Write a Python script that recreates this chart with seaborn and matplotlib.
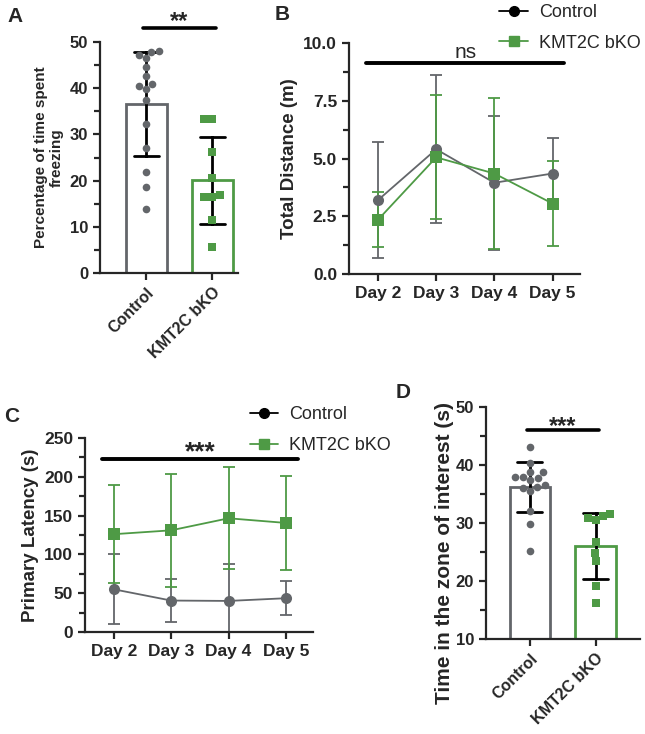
import numpy as np
import pandas as pd
import seaborn as sns
import matplotlib.pyplot as plt
from matplotlib.lines import Line2D
from matplotlib.ticker import MultipleLocator

GRAY = '#63666a'
GREEN = '#4e9a45'
GROUPS = ['Control', 'KMT2C bKO']
DAYS = ['Day 2', 'Day 3', 'Day 4', 'Day 5']

# A: freezing (%), individual animals
freeze_ctrl = [47.8, 48.1, 47.3, 46.5, 44.7, 42.7, 41.0, 40.5, 39.8, 37.5,
               32.3, 27.0, 21.8, 18.7, 13.8]
freeze_ko = [33.4, 33.4, 26.3, 20.5, 16.4, 16.9, 16.4, 11.5, 5.6]

# B: total distance (m), mean and SD
dist_ctrl = [3.2, 5.4, 3.95, 4.35]
dist_ctrl_sd = [2.5, 3.2, 2.9, 1.55]
dist_ko = [2.35, 5.05, 4.35, 3.05]
dist_ko_sd = [1.2, 2.68, 3.25, 1.85]

# C: primary latency (s), mean and SD
lat_ctrl = [55, 40.5, 40, 43.5]
lat_ctrl_sd = [45, 27.5, 47, 22]
lat_ko = [126, 131, 146.5, 140.5]
lat_ko_sd = [63, 73, 65.5, 60.5]

# D: time in zone of interest (s)
zone_ctrl = [43.2, 40.3, 38.8, 38.8, 37.8, 37.9, 37.9, 37.4, 36.5, 36.2,
             36.0, 35.5, 32.0, 29.9, 25.2]
zone_ko = [30.9, 31.5, 30.5, 31.2, 26.8, 24.8, 23.5, 19.1, 16.2]

sns.set_style('ticks')
plt.rcParams['font.family'] = ['Liberation Sans', 'DejaVu Sans']
plt.rcParams['axes.linewidth'] = 1.6
plt.rcParams['xtick.major.width'] = 1.6
plt.rcParams['ytick.major.width'] = 1.6
plt.rcParams['ytick.minor.width'] = 1.6
plt.rcParams['xtick.major.size'] = 5
plt.rcParams['ytick.major.size'] = 5
plt.rcParams['ytick.minor.size'] = 4

fig = plt.figure(figsize=(6.45, 7.34), dpi=100)
axA = fig.add_axes([0.155, 0.628, 0.214, 0.3147])
axB = fig.add_axes([0.541, 0.6267, 0.358, 0.3147])
axC = fig.add_axes([0.1318, 0.139, 0.3535, 0.2643])
axD = fig.add_axes([0.7535, 0.1294, 0.2388, 0.316])


def bar_panel(ax, ctrl, ko, ylabel, ylim, xlim, major, minor, sig, sig_y,
              label_size):
    df = pd.DataFrame({'group': ['Control'] * len(ctrl) + ['KMT2C bKO'] * len(ko),
                       'value': ctrl + ko})
    sns.barplot(data=df, x='group', y='value', hue='group', order=GROUPS,
                palette=[GRAY, GREEN], fill=False, width=0.62, linewidth=2,
                errorbar='sd', capsize=0.38,
                err_kws={'color': 'black', 'linewidth': 2, 'zorder': 3},
                legend=False, ax=ax)
    sns.swarmplot(data=df[df.group == 'Control'], x='group', y='value',
                  order=GROUPS, color=GRAY, marker='o', size=5.5, ax=ax,
                  zorder=4)
    sns.swarmplot(data=df[df.group == 'KMT2C bKO'], x='group', y='value',
                  order=GROUPS, color=GREEN, marker='s', size=5.5, ax=ax,
                  zorder=4)
    ax.set_ylim(*ylim)
    ax.set_xlim(*xlim)
    ax.yaxis.set_major_locator(MultipleLocator(major))
    ax.yaxis.set_minor_locator(MultipleLocator(minor))
    ax.set_xlabel('')
    ax.set_ylabel(ylabel, fontsize=label_size, fontweight='bold')
    ax.tick_params(axis='x', labelsize=11.5, rotation=45)
    ax.tick_params(axis='y', labelsize=12)
    for t in ax.get_xticklabels():
        t.set_fontweight('bold')
        t.set_ha('right')
        t.set_rotation_mode('anchor')
    for t in ax.get_yticklabels():
        t.set_fontweight('bold')
    ax.plot([-0.05, 1.05], [sig_y[0], sig_y[0]], color='black', lw=2.6,
            clip_on=False)
    ax.text(0.5, sig_y[1], sig, ha='center', va='bottom', fontsize=17,
            fontweight='bold')
    sns.despine(ax=ax)


bar_panel(axA, freeze_ctrl, freeze_ko, 'Percentage of time spent\nfreezing',
          (0, 50), (-0.70, 1.39), 10, 5, '**', (53.0, 51.9), 11)
bar_panel(axD, zone_ctrl, zone_ko, 'Time in the zone of interest (s)',
          (10, 50), (-0.667, 1.67), 10, 5, '***', (46.0, 44.6), 15)
axD.yaxis.set_label_coords(-0.205, 0.37)


def line_panel(ax, ctrl, ctrl_sd, ko, ko_sd, ylabel, ylim, major, minor,
               sig, sig_y, fmt, leg_anchor):
    df = pd.DataFrame({'day': DAYS * 2,
                       'group': ['Control'] * 4 + ['KMT2C bKO'] * 4,
                       'mean': ctrl + ko})
    sns.lineplot(data=df, x='day', y='mean', hue='group', style='group',
                 palette=[GRAY, GREEN], markers={'Control': 'o', 'KMT2C bKO': 's'},
                 dashes=False, markersize=8, markeredgewidth=0, linewidth=1.3,
                 legend=False, ax=ax, zorder=3)
    ax.errorbar(DAYS, ctrl, yerr=ctrl_sd, fmt='none', ecolor=GRAY,
                elinewidth=1.3, capsize=4.5, capthick=1.3, zorder=2)
    ax.errorbar(DAYS, ko, yerr=ko_sd, fmt='none', ecolor=GREEN,
                elinewidth=1.3, capsize=4.5, capthick=1.3, zorder=2)
    ax.set_ylim(*ylim)
    ax.set_xlim(-0.5, 3.47)
    ax.yaxis.set_major_locator(MultipleLocator(major))
    ax.yaxis.set_minor_locator(MultipleLocator(minor))
    ax.yaxis.set_major_formatter(fmt)
    ax.set_xlabel('')
    ax.set_ylabel(ylabel, fontsize=13.5, fontweight='bold')
    ax.tick_params(axis='both', labelsize=12.5)
    for t in ax.get_xticklabels() + ax.get_yticklabels():
        t.set_fontweight('bold')
    ax.plot([-0.2, 3.2], [sig_y[0], sig_y[0]], color='black', lw=2.8,
            clip_on=False)
    ax.text(1.5, sig_y[1], sig, ha='center', va='bottom', fontsize=sig_y[2],
            fontweight='bold' if sig != 'ns' else 'normal')
    handles = [Line2D([], [], color='black', marker='o', markersize=7, lw=1.3),
               Line2D([], [], color=GREEN, marker='s', markersize=7, lw=1.3)]
    ax.legend(handles, GROUPS, loc='upper left', bbox_to_anchor=leg_anchor,
              frameon=False, fontsize=13, handlelength=1.6,
              labelspacing=0.75, handletextpad=0.6, borderaxespad=0)
    sns.despine(ax=ax)


line_panel(axB, dist_ctrl, dist_ctrl_sd, dist_ko, dist_ko_sd,
           'Total Distance (m)', (0, 10), 2.5, 1.25, 'ns', (9.15, 9.17, 15),
           '{x:.1f}', (0.62, 1.2))
line_panel(axC, lat_ctrl, lat_ctrl_sd, lat_ko, lat_ko_sd,
           'Primary Latency (s)', (0, 250), 50, 25, '***', (223, 216, 19),
           '{x:.0f}', (0.69, 1.2))
axB.set_ylim(0, 10)
axC.set_ylim(0, 250)

for lab, x, y in [('A', 15, 16), ('B', 282, 14), ('C', 12, 417), ('D', 403, 393)]:
    fig.text(x / 645, 1 - y / 734, lab, fontsize=15, fontweight='bold',
             ha='center', va='center')

plt.savefig('out.png', dpi=100)
